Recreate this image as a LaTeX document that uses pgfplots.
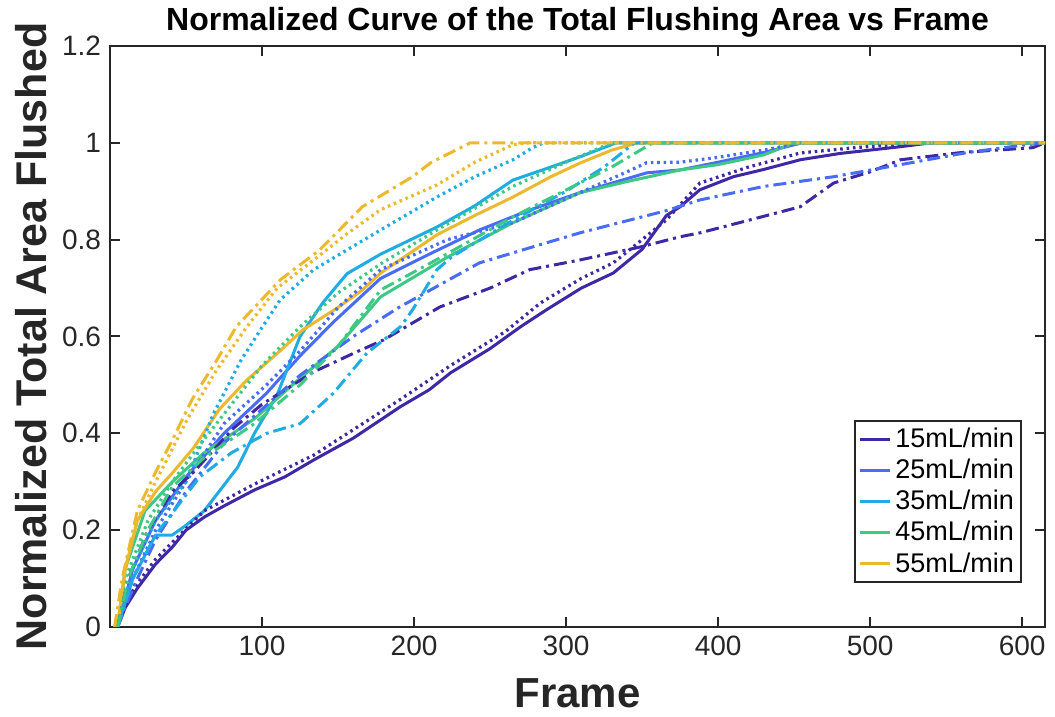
\documentclass[border=0pt]{standalone}
\usepackage{fontspec}
\setmainfont{Liberation Sans}
\usepackage{pgfplots}
\pgfplotsset{compat=1.18}
\definecolor{cA}{RGB}{62,40,165}
\definecolor{cB}{RGB}{72,108,245}
\definecolor{cC}{RGB}{30,172,226}
\definecolor{cD}{RGB}{62,200,132}
\definecolor{cE}{RGB}{236,184,46}
\definecolor{axgray}{RGB}{38,38,38}
\tikzset{
  sol/.style={line width=1.5pt},
  dts/.style={line width=1.6pt, dash pattern=on 1.3pt off 1.9pt},
  dds/.style={line width=1.5pt, dash pattern=on 6.5pt off 2.5pt on 1.5pt off 2.5pt},
}
\begin{document}
\begin{tikzpicture}
\useasboundingbox (-55pt,-45pt) rectangle (472.5pt,313.5pt);
\begin{axis}[
  scale only axis, width=467.5pt, height=290.5pt,
  xmin=0, xmax=615, ymin=0, ymax=1.2,
  xtick={100,200,300,400,500,600},
  ytick={0,0.2,0.4,0.6,0.8,1,1.2},
  yticklabels={0,0.2,0.4,0.6,0.8,1,1.2},
  tick align=inside, major tick length=5pt,
  axis line style={line width=1pt, axgray},
  every tick/.style={line width=1pt, axgray},
  tick label style={font=\fontsize{14}{16}\selectfont, text=axgray},
  /pgf/number format/assume math mode=true,
  xticklabel style={yshift=-1pt},
  yticklabel style={xshift=-1pt},
  every axis title shift=0pt,
  title={Normalized Curve of the Total Flushing Area vs Frame},
  title style={at={(axis description cs:0.5,1.0275)}, anchor=base, inner sep=0pt, font=\fontsize{16}{18}\selectfont\bfseries},
  xlabel={Frame},
  xlabel style={at={(axis description cs:0.5,-0.088)}, anchor=north, inner sep=0pt, font=\fontsize{21}{24}\selectfont\bfseries, text=axgray},
  ylabel={Normalized Total Area Flushed},
  ylabel style={at={(axis description cs:-0.067,0.5)}, anchor=south, inner sep=0pt, font=\fontsize{21.5}{24}\selectfont\bfseries, text=axgray},
  legend style={at={(axis description cs:0.975,0.076)}, anchor=south east,
     font=\fontsize{13.5}{15}\selectfont, draw=axgray, line width=0.8pt,
     inner sep=1.5pt, row sep=0.3pt, cells={anchor=west}},
  legend image code/.code={\draw[#1, line width=1.5pt] (0pt,0pt) -- (15pt,0pt);},
]
% ---- solid ----
\addplot[cA, sol] coordinates {(5,0) (10,0.04) (18,0.08) (30,0.13) (41,0.165) (50,0.2) (62,0.227) (75,0.25) (95,0.283) (115,0.31) (134,0.345) (160,0.39) (191,0.455) (210,0.49) (224,0.525) (250,0.575) (270,0.62) (287,0.655) (310,0.7) (331,0.731) (350,0.78) (366,0.85) (375,0.868) (388,0.903) (410,0.93) (430,0.945) (454,0.965) (480,0.978) (500,0.985) (520,0.992) (540,1) (615,1)};
\addlegendentry{15mL/min}
\addplot[cB, sol] coordinates {(5,0) (15,0.12) (30,0.22) (50,0.31) (75,0.4) (103,0.483) (125,0.56) (147,0.63) (178,0.72) (210,0.77) (243,0.82) (275,0.86) (309,0.897) (353,0.938) (375,0.944) (400,0.96) (430,0.98) (455,1) (615,1)};
\addlegendentry{25mL/min}
\addplot[cC, sol] coordinates {(5,0) (15,0.1) (30,0.19) (41,0.19) (50,0.21) (62,0.24) (84,0.33) (95,0.40) (110,0.48) (125,0.6) (140,0.67) (156,0.73) (178,0.77) (215,0.826) (240,0.87) (265,0.923) (290,0.95) (309,0.971) (333,1) (615,1)};
\addlegendentry{35mL/min}
\addplot[cD, sol] coordinates {(5,0) (10,0.12) (23,0.24) (41,0.3) (62,0.36) (95,0.43) (120,0.5) (150,0.58) (178,0.682) (222,0.764) (265,0.835) (309,0.897) (340,0.92) (375,0.944) (400,0.955) (430,0.975) (450,1) (615,1)};
\addlegendentry{45mL/min}
\addplot[cE, sol] coordinates {(5,0) (10,0.12) (18,0.22) (30,0.28) (41,0.318) (55,0.37) (72,0.45) (90,0.51) (110,0.565) (127,0.614) (150,0.66) (166,0.696) (178,0.731) (215,0.81) (240,0.85) (265,0.888) (290,0.93) (309,0.958) (330,0.985) (347,1) (615,1)};
\addlegendentry{55mL/min}
% ---- dotted ----
\addplot[cA, dts, forget plot] coordinates {(5,0) (10,0.05) (18,0.09) (30,0.14) (41,0.175) (62,0.24) (95,0.295) (134,0.355) (191,0.47) (224,0.54) (260,0.61) (283,0.669) (310,0.72) (331,0.752) (350,0.8) (366,0.841) (388,0.917) (420,0.95) (454,0.979) (490,0.99) (530,1) (615,1)};
\addplot[cB, dts, forget plot] coordinates {(5,0) (15,0.1) (30,0.2) (50,0.3) (75,0.42) (103,0.5) (125,0.57) (150,0.66) (178,0.738) (222,0.80) (265,0.835) (309,0.897) (340,0.94) (353,0.959) (375,0.96) (400,0.97) (430,0.985) (455,1) (615,1)};
\addplot[cC, dts, forget plot] coordinates {(5,0) (15,0.12) (30,0.22) (50,0.3) (68,0.44) (86,0.55) (99,0.614) (112,0.676) (134,0.738) (178,0.82) (215,0.888) (240,0.93) (265,0.965) (278,0.99) (285,1) (615,1)};
\addplot[cD, dts, forget plot] coordinates {(5,0) (10,0.1) (25,0.22) (41,0.3) (60,0.38) (80,0.46) (100,0.54) (125,0.62) (150,0.69) (178,0.75) (215,0.82) (265,0.91) (300,0.96) (330,1) (615,1)};
\addplot[cE, dts, forget plot] coordinates {(5,0) (10,0.12) (18,0.22) (30,0.3) (51,0.43) (70,0.53) (90,0.62) (110,0.7) (134,0.758) (155,0.81) (178,0.862) (215,0.913) (240,0.96) (265,0.996) (275,1) (615,1)};
% ---- dash-dot ----
\addplot[cA, dds, forget plot] coordinates {(5,0) (12,0.1) (25,0.2) (41,0.28) (55,0.32) (81,0.41) (100,0.46) (134,0.527) (160,0.565) (180,0.593) (217,0.661) (250,0.7) (276,0.738) (309,0.758) (349,0.785) (375,0.806) (388,0.814) (420,0.84) (454,0.868) (476,0.917) (500,0.94) (520,0.965) (560,0.98) (607,0.99) (615,1)};
\addplot[cB, dds, forget plot] coordinates {(5,0) (15,0.08) (30,0.18) (50,0.28) (75,0.38) (100,0.45) (125,0.52) (160,0.6) (190,0.66) (243,0.752) (278,0.785) (309,0.814) (366,0.86) (388,0.882) (430,0.91) (476,0.93) (520,0.955) (564,0.98) (600,0.995) (615,1)};
\addplot[cC, dds, forget plot] coordinates {(5,0) (15,0.1) (30,0.19) (59,0.31) (80,0.36) (103,0.40) (125,0.42) (147,0.483) (169,0.566) (191,0.62) (199,0.655) (215,0.738) (225,0.765) (265,0.84) (300,0.9) (325,0.95) (345,1) (615,1)};
\addplot[cD, dds, forget plot] coordinates {(5,0) (12,0.1) (25,0.2) (41,0.29) (62,0.35) (95,0.42) (125,0.5) (150,0.58) (178,0.696) (211,0.752) (265,0.847) (309,0.917) (330,0.95) (357,1) (615,1)};
\addplot[cE, dds, forget plot] coordinates {(3,0) (8,0.1) (18,0.24) (30,0.32) (41,0.386) (54,0.47) (70,0.55) (83,0.62) (112,0.717) (138,0.779) (166,0.868) (199,0.93) (211,0.959) (237,1) (615,1)};
\end{axis}
\end{tikzpicture}
\end{document}
